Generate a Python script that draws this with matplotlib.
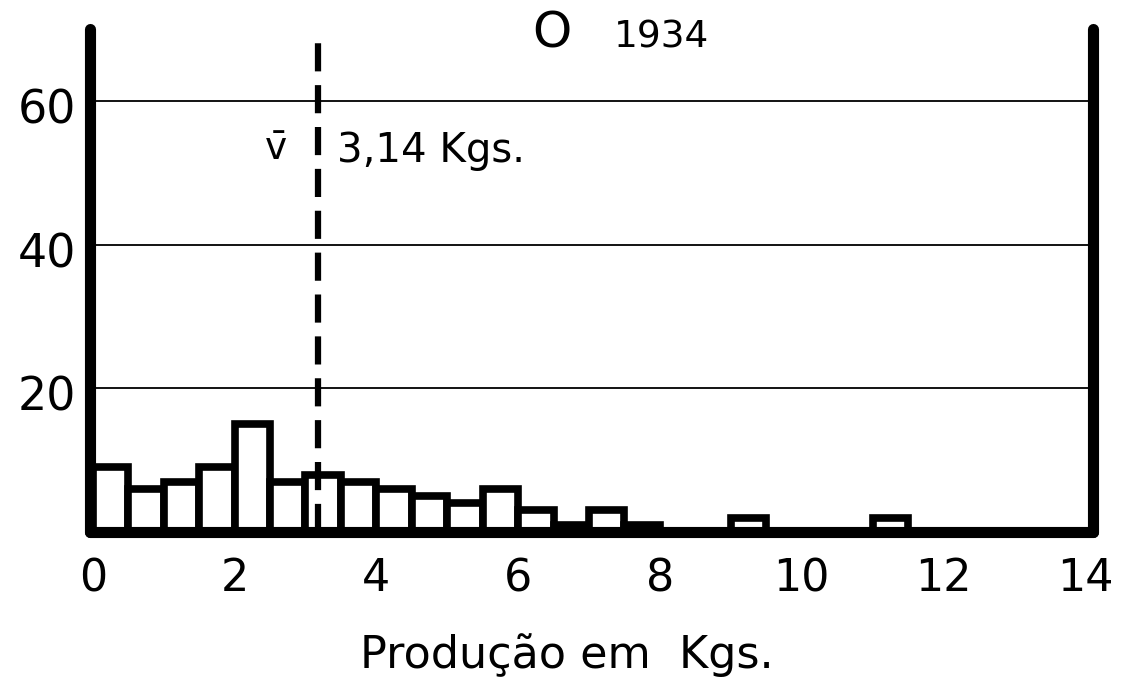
import numpy as np
from matplotlib import pyplot as plt
import matplotlib.transforms as mtransforms

# classes de 0,5 Kg (limite inferior) e frequencias
classes = np.arange(0, 14, 0.5)
freq = [9, 6, 7, 9, 15, 7, 8, 7, 6, 5, 4, 6,
        3, 1, 3, 1, 0, 0, 2, 0, 0, 0, 2, 0, 0, 0, 0, 0]
media = 3.14
grade_y = [20, 40, 60]
ticks_x = [0, 2, 4, 6, 8, 10, 12, 14]

fig = plt.figure(figsize=(11.4, 6.83), dpi=100)
ax = fig.add_axes([90 / 1140, 1 - 532 / 683, 1003 / 1140, 503 / 683])

for g in grade_y:
    ax.axhline(g, color='black', lw=1.3, zorder=1)

ax.bar(classes, freq, width=0.5, align='edge', color='white',
       edgecolor='black', linewidth=5.5, zorder=2)

ax.vlines(media + 0.03, 0, 68.5, colors='black', linewidth=4.5,
          linestyles=(0, (4.5, 2.2)), zorder=3)

ax.set_xlim(-0.04, 14.11)
ax.set_ylim(0, 70)

ax.spines['top'].set_visible(False)
for s in ['left', 'right', 'bottom']:
    ax.spines[s].set_linewidth(8)
    ax.spines[s].set_capstyle('round')
ax.spines['bottom'].set_zorder(4)

ax.set_xticks(ticks_x)
ax.set_xticklabels([str(t) for t in ticks_x], fontsize=32)
ax.set_yticks(grade_y)
ax.set_yticklabels([str(t) for t in grade_y], fontsize=33)
ax.tick_params(length=0)
ax.tick_params(axis='x', pad=18)
ax.tick_params(axis='y', pad=10)
# rotulos do eixo y um pouco abaixo da linha
off = mtransforms.ScaledTranslation(0, -5 / 100, fig.dpi_scale_trans)
for lbl in ax.get_yticklabels():
    lbl.set_transform(lbl.get_transform() + off)

ax.text(2.58, 53.2, r'$\bar{\mathrm{v}}$', fontsize=27, ha='center', va='center')
ax.text(3.45, 53.0, '3,14 Kgs.', fontsize=29, ha='left', va='center')

fig.text(552 / 1140, 1 - 33 / 683, 'O', fontsize=36, ha='center', va='center')
fig.text(662 / 1140, 1 - 38 / 683, '1934', fontsize=27, ha='center', va='center')
fig.text(567 / 1140, 1 - 655 / 683, 'Produção em  Kgs.', fontsize=32,
         ha='center', va='center')

plt.savefig('out.png', dpi=100)
